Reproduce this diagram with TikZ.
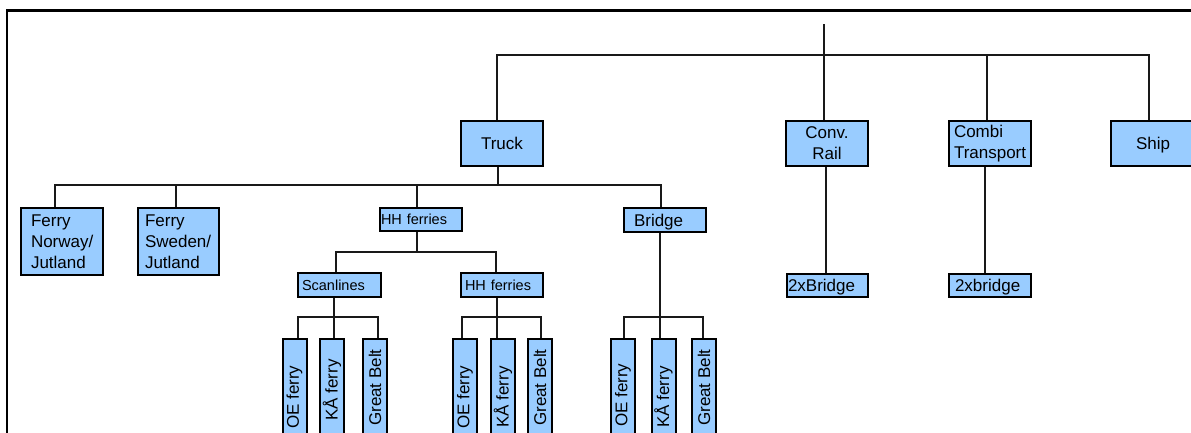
\documentclass[tikz,border=0pt]{standalone}
\usepackage{fontspec}
\setmainfont{Liberation Sans}
\definecolor{boxblue}{RGB}{153,204,255}
\tikzset{
  bx/.style={draw=black, line width=2.4pt, fill=boxblue, inner ysep=0pt, text=black,
             font=\fontsize{17}{21}\selectfont},
  sbx/.style={bx, font=\fontsize{14.5}{17}\selectfont},
  oneline/.style={text depth=0pt},
  vbx/.style={draw=black, line width=2pt, fill=boxblue, minimum width=24pt,
              minimum height=111pt, inner sep=0pt},
  vtx/.style={rotate=90, anchor=west, inner sep=0pt, text=black,
              font=\fontsize{17}{21}\selectfont},
  conn/.style={line width=1.1pt, draw=black!90},
  frameline/.style={line width=2.2pt, draw=black},
}
\begin{document}
\begin{tikzpicture}[x=1pt, y=-1pt]
\useasboundingbox (0,0) rectangle (1191,432);
\clip (0,0) rectangle (1191,432);
\draw[frameline] (7,450) -- (7,10.5) -- (1200,10.5);

% level 1
\node[bx, oneline, minimum width=82pt, minimum height=45pt] (truck) at (502,143.5) {Truck};
\node[bx, minimum width=82pt, minimum height=45pt, align=center] (rail) at (827,143.5) {Conv.\\Rail};
\node[bx, text width=72pt, inner xsep=5pt, minimum height=45pt, align=left] (combi) at (990,143.5) {Combi\\Transport};
\node[bx, oneline, minimum width=84pt, minimum height=45pt] (ship) at (1153,143.5) {Ship};

% level 2
\node[bx, text width=62pt, inner xsep=10pt, minimum height=67pt, align=left] (fn) at (62,241.5) {Ferry\\Norway/\\Jutland};
\node[bx, text width=67pt, inner xsep=7pt, minimum height=67pt, align=left] (fs) at (178.5,241.5) {Ferry\\Sweden/\\Jutland};
\node[sbx, oneline, text width=80pt, inner xsep=1pt, minimum height=23pt, align=left] (hh) at (421,219.5) {HH ferries};
\node[bx, oneline, text width=62pt, inner xsep=10pt, minimum height=24pt, align=left] (bridge) at (665,220) {Bridge};
\node[bx, oneline, text width=79pt, inner xsep=1pt, minimum height=23pt, align=left] (rb) at (827.5,285.5) {2xBridge};
\node[bx, oneline, text width=70pt, inner xsep=6pt, minimum height=23pt, align=left] (cb) at (990,285.5) {2xbridge};

% level 3
\node[sbx, oneline, text width=75pt, inner xsep=4pt, minimum height=24pt, align=left] (scan) at (339.5,285) {Scanlines};
\node[sbx, oneline, text width=74pt, inner xsep=4pt, minimum height=24pt, align=left] (hh2) at (502,285) {HH ferries};

% level 4 (vertical boxes)
\node[vbx] (oe1) at (294.5,394.5) {};
\node[vbx] (ka1) at (332,394.5) {};
\node[vbx] (gb1) at (375,394.5) {};
\node[vbx] (oe2) at (465,394.5) {};
\node[vbx] (ka2) at (503,394.5) {};
\node[vbx] (gb2) at (540,394.5) {};
\node[vbx] (oe3) at (623,394.5) {};
\node[vbx] (ka3) at (663.5,394.5) {};
\node[vbx] (gb3) at (704,394.5) {};
\node[vtx] (toe1) at (294.5,429) {OE ferry};
\node[vtx] (tka1) at (332,421) {KÅ ferry};
\node[vtx] (tgb1) at (375,426) {Great Belt};
\node[vtx] (toe2) at (465,429) {OE ferry};
\node[vtx] (tka2) at (503,428) {KÅ ferry};
\node[vtx] (tgb2) at (540,426) {Great Belt};
\node[vtx] (toe3) at (623,427) {OE ferry};
\node[vtx] (tka3) at (663.5,428) {KÅ ferry};
\node[vtx] (tgb3) at (704,426) {Great Belt};

% connectors: top
\coordinate (root) at (824,24);
\coordinate (bus) at (824,55);
\coordinate (truckin) at ([xshift=-5pt]truck.north);
\coordinate (combiin) at ([xshift=-3pt]combi.north);
\coordinate (shipin) at ([xshift=-4pt]ship.north);
\draw[conn] (root) -- (root |- rail.north);
\draw[conn] (truckin) |- (bus) -| (shipin);
\draw[conn] (combiin) -- (combiin |- bus);
\draw[conn] ([xshift=-1pt]rail.south) -- ([xshift=-1.5pt]rb.north);
\draw[conn] ([xshift=-5pt]combi.south) -- ([xshift=-5pt]cb.north);

% truck bus
\coordinate (tb) at (498,185);
\coordinate (fnin) at ([xshift=-7pt]fn.north);
\coordinate (fsin) at ([xshift=-2.5pt]fs.north);
\coordinate (hhin) at ([xshift=-4pt]hh.north);
\coordinate (brin) at ([xshift=-4pt]bridge.north);
\draw[conn] ([xshift=-4pt]truck.south) -- (tb);
\draw[conn] (fnin) |- (tb) -| (brin);
\draw[conn] (fsin) -- (fsin |- tb);
\draw[conn] (hhin) -- (hhin |- tb);

% HH bus
\coordinate (hb) at (417,252);
\coordinate (scanin) at ([xshift=-3.5pt]scan.north);
\coordinate (hh2in) at ([xshift=-6pt]hh2.north);
\draw[conn] ([xshift=-4pt]hh.south) -- (hb);
\draw[conn] (scanin) |- (hb) -| (hh2in);

% group 1
\coordinate (sb) at (334,317);
\draw[conn] ([xshift=-5.5pt]scan.south) -- (sb);
\draw[conn] ([xshift=3.5pt]oe1.north) |- (sb) -| ([xshift=3pt]gb1.north);
\draw[conn] (sb) -- (sb |- ka1.north);

% group 2
\coordinate (hb2) at (497,317);
\draw[conn] ([xshift=-5pt]hh2.south) -- (hb2);
\draw[conn] ([xshift=-3pt]oe2.north) |- (hb2) -| ([xshift=1pt]gb2.north);
\draw[conn] (hb2) -- (hb2 |- ka2.north);

% group 3
\coordinate (bb) at (660,317);
\draw[conn] ([xshift=-5pt]bridge.south) -- (bb);
\draw[conn] ([xshift=1pt]oe3.north) |- (bb) -| ([xshift=-1pt]gb3.north);
\draw[conn] (bb) -- (bb |- ka3.north);
\end{tikzpicture}
\end{document}
